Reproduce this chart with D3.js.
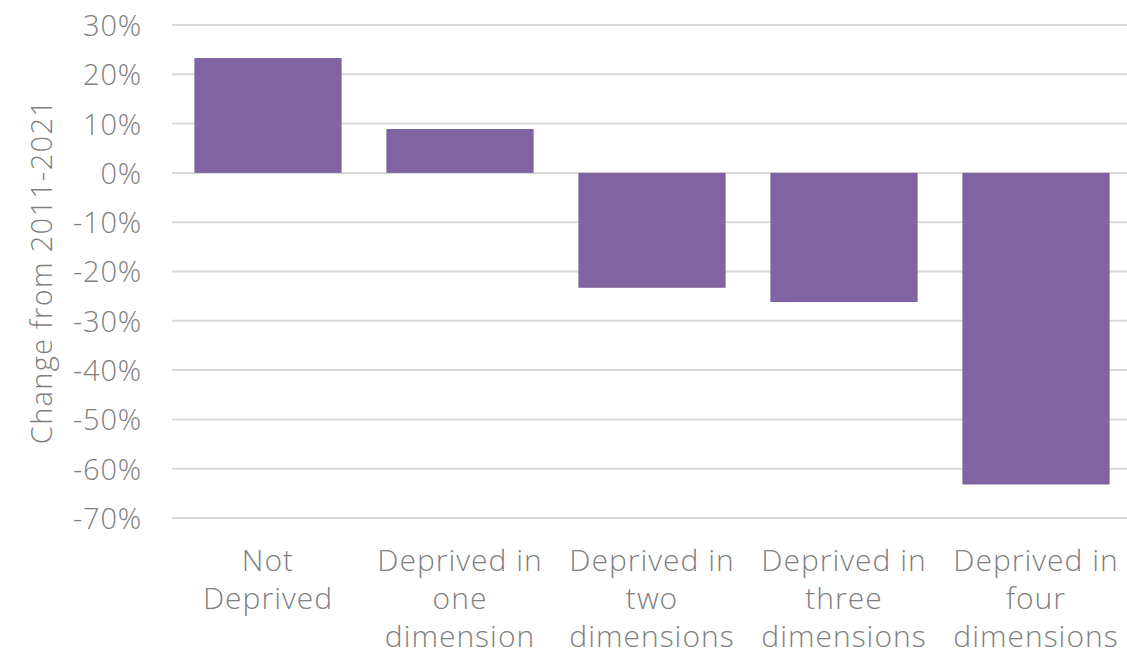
<!DOCTYPE html>
<html><head><meta charset="utf-8">
<script src="https://cdn.jsdelivr.net/npm/d3@7"></script>
<style>body{margin:0;background:#fff}svg{display:block}</style>
</head><body><svg id="c" width="1127" height="656"></svg>
<script>
const categories = [["Not","Deprived"],["Deprived in","one","dimension"],["Deprived in","two","dimensions"],["Deprived in","three","dimensions"],["Deprived in","four","dimensions"]];
const values = [23.3, 8.9, -23.3, -26.2, -63.2];
const yTicks = [30,20,10,0,-10,-20,-30,-40,-50,-60,-70];
const yTitle = "Change from 2011-2021";

(function(){
const svg = d3.select("#c");
const L = 172, R = 1132, T = 25, B = 518;
const font = "'Open Sans', 'Noto Sans', sans-serif";
const x = d3.scaleBand().domain(d3.range(categories.length)).range([L,R]).paddingInner(0.233).paddingOuter(0.1165);
const y = d3.scaleLinear().domain([-70,30]).range([B,T]);

svg.append("g").selectAll("line").data(yTicks).join("line")
  .attr("x1",L).attr("x2",R).attr("y1",d=>y(d)).attr("y2",d=>y(d))
  .attr("stroke","#d9d9d9").attr("stroke-width",2);

svg.append("g").selectAll("rect").data(values).join("rect")
  .attr("x",(d,i)=>x(i)).attr("width",x.bandwidth())
  .attr("y",d=>y(Math.max(0,d))).attr("height",d=>Math.abs(y(d)-y(0)))
  .attr("fill","#8064a2");

const yAxis = d3.axisLeft(y).tickValues(yTicks).tickFormat(d=>d+"%").tickSize(0).tickPadding(0);
const ga = svg.append("g").attr("transform",`translate(142,0)`).call(yAxis);
ga.select(".domain").remove();
ga.selectAll("text").attr("font-family",font).attr("font-weight",300).attr("font-size",29).attr("letter-spacing",0.8).attr("fill","#7f7f7f").attr("dy","0.36em");

svg.append("text").attr("transform",`translate(52,${(T+B)/2}) rotate(-90)`)
  .attr("text-anchor","middle").attr("font-family",font).attr("font-weight",300).attr("font-size",29).attr("letter-spacing",1.3).attr("fill","#7f7f7f").text(yTitle);

const gl = svg.append("g");
categories.forEach((lines,i)=>{
  const t = gl.append("text").attr("text-anchor","middle").attr("font-family",font).attr("font-weight",300).attr("font-size",30).attr("letter-spacing",1).attr("fill","#7f7f7f");
  lines.forEach((l,j)=>t.append("tspan").attr("x",x(i)+x.bandwidth()/2).attr("y",571+j*38).text(l));
});
})();
</script></body></html>
